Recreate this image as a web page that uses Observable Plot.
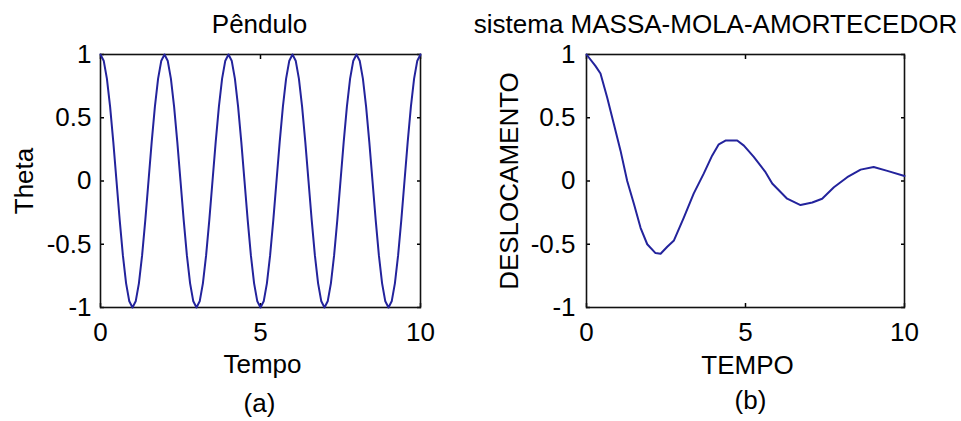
<!DOCTYPE html>
<html>
<head>
<meta charset="utf-8">
<script src="https://cdn.jsdelivr.net/npm/d3@7"></script>
<script src="https://cdn.jsdelivr.net/npm/@observablehq/plot@0.6"></script>
<style>
  html, body { margin: 0; padding: 0; background: #fff; }
  #wrap { position: relative; width: 961px; height: 421px; overflow: hidden; background: #fff; }
  #wrap > svg, #wrap > figure { position: absolute; top: 0; margin: 0; }
</style>
</head>
<body>
<div id="wrap"></div>
<script>
// ---- Data ----
const pendTime = [0,0.1,0.2,0.3,0.4,0.5,0.6,0.7,0.8,0.9,1,1.1,1.2,1.3,1.4,1.5,1.6,1.7,1.8,1.9,2,2.1,2.2,2.3,2.4,2.5,2.6,2.7,2.8,2.9,3,3.1,3.2,3.3,3.4,3.5,3.6,3.7,3.8,3.9,4,4.1,4.2,4.3,4.4,4.5,4.6,4.7,4.8,4.9,5,5.1,5.2,5.3,5.4,5.5,5.6,5.7,5.8,5.9,6,6.1,6.2,6.3,6.4,6.5,6.6,6.7,6.8,6.9,7,7.1,7.2,7.3,7.4,7.5,7.6,7.7,7.8,7.9,8,8.1,8.2,8.3,8.4,8.5,8.6,8.7,8.8,8.9,9,9.1,9.2,9.3,9.4,9.5,9.6,9.7,9.8,9.9,10];
const pendTheta = [
  1,0.951,0.809,0.588,0.309,0,-0.309,-0.588,-0.809,-0.951,
  -1,-0.951,-0.809,-0.588,-0.309,0,0.309,0.588,0.809,0.951,
  1,0.951,0.809,0.588,0.309,0,-0.309,-0.588,-0.809,-0.951,
  -1,-0.951,-0.809,-0.588,-0.309,0,0.309,0.588,0.809,0.951,
  1,0.951,0.809,0.588,0.309,0,-0.309,-0.588,-0.809,-0.951,
  -1,-0.951,-0.809,-0.588,-0.309,0,0.309,0.588,0.809,0.951,
  1,0.951,0.809,0.588,0.309,0,-0.309,-0.588,-0.809,-0.951,
  -1,-0.951,-0.809,-0.588,-0.309,0,0.309,0.588,0.809,0.951,
  1,0.951,0.809,0.588,0.309,0,-0.309,-0.588,-0.809,-0.951,
  -1,-0.951,-0.809,-0.588,-0.309,0,0.309,0.588,0.809,0.951,
  1
];
const dampTime = [0,0.28,0.44,0.65,0.86,1.07,1.28,1.49,1.70,1.91,2.17,2.33,2.54,2.75,3.06,3.37,3.69,3.95,4.16,4.37,4.74,4.95,5.26,5.63,5.84,6.31,6.73,7.10,7.41,7.78,8.20,8.62,9.03,9.46,10];
const dampDisp = [1,0.91,0.85,0.66,0.45,0.24,0.0,-0.18,-0.37,-0.50,-0.57,-0.575,-0.52,-0.47,-0.29,-0.10,0.06,0.20,0.29,0.32,0.32,0.28,0.19,0.07,-0.02,-0.14,-0.19,-0.17,-0.14,-0.05,0.03,0.09,0.11,0.08,0.04];

const xTicks = [0, 5, 10];
const yTicks = [-1, -0.5, 0, 0.5, 1];

const titles = ["Pêndulo", "sistema MASSA-MOLA-AMORTECEDOR"];
const xLabels = ["Tempo", "TEMPO"];
const yLabels = ["Theta", "DESLOCAMENTO"];
const captions = ["(a)", "(b)"];

const lineColor = "#23239c";
const fmt = d => String(d);

function panel({time, values, left, width, marginLeft, marginRight, title, titleDx, titleSize, xLabel, xLabelDx, xLabelDy, yLabel, yLabelDx, caption, captionDx, captionDy, yPad}) {
  const data = time.map((t, i) => ({t, v: values[i]}));
  const fs = 26;
  const svg = Plot.plot({
    width, height: 421,
    marginLeft, marginRight, marginTop: 54, marginBottom: 114,
    style: {fontFamily: "'Liberation Sans', Arial, sans-serif", fontSize: "26px", background: "transparent", overflow: "visible", color: "#000"},
    x: {domain: [0, 10]},
    y: {domain: [-1, 1]},
    marks: [
      Plot.axisX({anchor: "bottom", ticks: xTicks, tickSize: -4, tickPadding: 19, tickFormat: fmt, label: null, fontSize: fs, strokeWidth: 1.5}),
      Plot.axisX({anchor: "top", ticks: xTicks, tickSize: -4, tickFormat: () => "", label: null, strokeWidth: 1.5}),
      Plot.axisY({anchor: "left", ticks: yTicks, tickSize: -4, tickPadding: yPad, tickFormat: fmt, label: null, fontSize: fs, strokeWidth: 1.5}),
      Plot.axisY({anchor: "right", ticks: yTicks, tickSize: -4, tickFormat: () => "", label: null, strokeWidth: 1.5}),
      Plot.frame({stroke: "#111", strokeWidth: 1.6}),
      Plot.line(data, {x: "t", y: "v", stroke: lineColor, strokeWidth: 2, curve: "linear"}),
      Plot.text([title], {frameAnchor: "top", textAnchor: "middle", dx: titleDx, dy: -22, lineAnchor: "bottom", fontSize: titleSize, fill: "#000"}),
      Plot.text([xLabel], {frameAnchor: "bottom", textAnchor: "middle", dx: xLabelDx, dy: xLabelDy, lineAnchor: "bottom", fontSize: fs, fill: "#000"}),
      Plot.text([yLabel], {frameAnchor: "left", textAnchor: "middle", dx: yLabelDx, rotate: -90, lineAnchor: "middle", fontSize: fs, fill: "#000"}),
      Plot.text([caption], {frameAnchor: "bottom", textAnchor: "middle", dx: captionDx, dy: captionDy, lineAnchor: "bottom", fontSize: fs, fill: "#000"})
    ]
  });
  svg.style.left = left + "px";
  return svg;
}

const wrap = document.getElementById("wrap");
wrap.appendChild(panel({
  time: pendTime, values: pendTheta, left: 0, width: 480, marginLeft: 100, marginRight: 60,
  title: titles[0], titleDx: -1, titleSize: 26, xLabel: xLabels[0], xLabelDx: 2, xLabelDy: 65,
  yLabel: yLabels[0], yLabelDx: -76, caption: captions[0], captionDx: -1, captionDy: 104, yPad: 13
}));
wrap.appendChild(panel({
  time: dampTime, values: dampDisp, left: 440, width: 521, marginLeft: 146, marginRight: 57,
  title: titles[1], titleDx: -30, titleSize: 26, xLabel: xLabels[1], xLabelDx: 2, xLabelDy: 66,
  yLabel: yLabels[1], yLabelDx: -77, caption: captions[1], captionDx: 5, captionDy: 101, yPad: 15
}));
</script>
</body>
</html>
